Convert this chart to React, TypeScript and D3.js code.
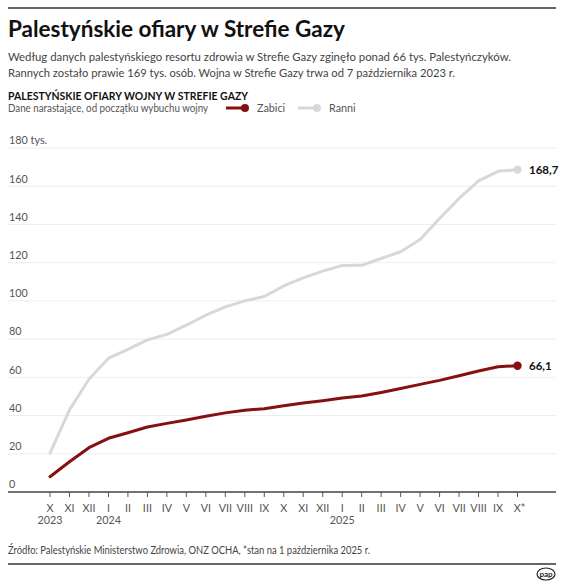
import React, { useEffect } from 'react';
import * as d3 from 'd3';

const months = ['X', 'XI', 'XII', 'I', 'II', 'III', 'IV', 'V', 'VI', 'VII', 'VIII', 'IX', 'X', 'XI', 'XII', 'I', 'II', 'III', 'IV', 'V', 'VI', 'VII', 'VIII', 'IX', 'X*'];
const yearLabels = [
    { index: 0, label: '2023' },
    { index: 3, label: '2024' },
    { index: 15, label: '2025' },
];
// tys. osób, dane narastające
const killed = [8.0, 15.8, 23.2, 28.1, 31.0, 34.0, 35.9, 37.7, 39.6, 41.4, 42.8, 43.6, 45.1, 46.6, 47.8, 49.2, 50.2, 52.1, 54.2, 56.3, 58.4, 60.8, 63.3, 65.5, 66.1];
const wounded = [20.3, 43.0, 59.0, 70.0, 74.6, 79.6, 82.5, 87.3, 92.5, 96.9, 100.0, 102.3, 107.8, 112.0, 115.6, 118.5, 118.6, 122.2, 125.7, 132.1, 143.1, 153.6, 162.8, 167.8, 168.7];
const yTicks = [0, 20, 40, 60, 80, 100, 120, 140, 160, 180];

const width = 564;
const height = 586;
const left = 8;
const right = 556;

const RED = '#861010';
const GRAY = '#d8d8d8';
const FONT = 'Lato, sans-serif';

const App: React.FC = () => {
    useEffect(() => {
        document.body.style.margin = '0';
    }, []);

    const x = d3.scaleLinear().domain([0, months.length - 1]).range([50, 517.5]);
    const y = d3.scaleLinear().domain([0, 180]).range([492, 148]);

    const line = d3.line<number>()
        .x((_, i) => x(i))
        .y(d => y(d));

    const last = months.length - 1;
    const fmt = (v: number) => String(v).replace('.', ',');

    return (
        <svg width={width} height={height} viewBox={`0 0 ${width} ${height}`} style={{ display: 'block', background: '#fff' }} fontFamily={FONT}>
            <line x1={left} x2={right} y1={8} y2={8} stroke="#333" strokeWidth={1.5} />
            <text x={left} y={37} fontSize={22.5} fontWeight={700} fill="#111">Palestyńskie ofiary w Strefie Gazy</text>
            <text x={left} y={61} fontSize={11.8} fill="#444" textLength={503} lengthAdjust="spacingAndGlyphs">Według danych palestyńskiego resortu zdrowia w Strefie Gazy zginęło ponad 66 tys. Palestyńczyków.</text>
            <text x={left} y={77} fontSize={11.8} fill="#444" textLength={447} lengthAdjust="spacingAndGlyphs">Rannych zostało prawie 169 tys. osób. Wojna w Strefie Gazy trwa od 7 października 2023 r.</text>

            <text x={left} y={100} fontSize={11.5} fontWeight={700} fill="#111" textLength={240} lengthAdjust="spacingAndGlyphs">PALESTYŃSKIE OFIARY WOJNY W STREFIE GAZY</text>
            <text x={left} y={112} fontSize={10.8} fill="#555" textLength={200} lengthAdjust="spacingAndGlyphs">Dane narastające, od początku wybuchu wojny</text>

            <line x1={226} x2={245} y1={108} y2={108} stroke={RED} strokeWidth={3} />
            <circle cx={245} cy={108} r={4} fill={RED} />
            <text x={257} y={112} fontSize={10.8} fill="#555">Zabici</text>
            <line x1={298} x2={317} y1={108} y2={108} stroke={GRAY} strokeWidth={3} />
            <circle cx={317} cy={108} r={4} fill={GRAY} />
            <text x={329} y={112} fontSize={10.8} fill="#555">Ranni</text>

            {yTicks.map(t => (
                <g key={t}>
                    {t > 0 && <line x1={left} x2={right} y1={y(t)} y2={y(t)} stroke="#eeeeee" strokeWidth={1} />}
                    <text x={9} y={y(t) - 3.7} fontSize={10.8} fill="#555">{t === 180 ? '180 tys.' : t}</text>
                </g>
            ))}

            <line x1={left} x2={right} y1={y(0)} y2={y(0)} stroke="#444" strokeWidth={1.3} />
            {months.map((m, i) => (
                <g key={i} transform={`translate(${x(i)},0)`}>
                    <line y1={y(0)} y2={y(0) + 5} stroke="#555" strokeWidth={1} />
                    <text y={512} textAnchor="middle" fontSize={10.8} fill="#555" dx={m === 'X*' ? 2 : 0}>{m}</text>
                </g>
            ))}
            {yearLabels.map(d => (
                <text key={d.label} x={x(d.index)} y={524} textAnchor="middle" fontSize={10.8} fill="#555">{d.label}</text>
            ))}

            <path d={line(wounded) ?? ''} fill="none" stroke={GRAY} strokeWidth={3} strokeLinejoin="round" strokeLinecap="round" />
            <path d={line(killed) ?? ''} fill="none" stroke={RED} strokeWidth={3} strokeLinejoin="round" strokeLinecap="round" />
            <circle cx={x(last)} cy={y(wounded[last])} r={4.2} fill={GRAY} />
            <circle cx={x(last)} cy={y(killed[last])} r={4.2} fill={RED} />
            <text x={529} y={y(wounded[last]) + 4} fontSize={11.5} fontWeight={700} fill="#111">{fmt(wounded[last])}</text>
            <text x={529} y={y(killed[last]) + 4} fontSize={11.5} fontWeight={700} fill="#111">{fmt(killed[last])}</text>

            <text x={left} y={554} fontSize={10.8} fill="#444" textLength={362} lengthAdjust="spacingAndGlyphs">Źródło: Palestyńskie Ministerstwo Zdrowia, ONZ OCHA, *stan na 1 października 2025 r.</text>
            <line x1={left} x2={right} y1={564} y2={564} stroke="#333" strokeWidth={1.3} />

            <ellipse cx={546} cy={574} rx={9} ry={6} fill="#fff" stroke="#222" strokeWidth={1.2} />
            <text x={546} y={577} textAnchor="middle" fontSize={8} fontWeight={700} fill="#222">pap</text>
        </svg>
    );
};

export default App;
